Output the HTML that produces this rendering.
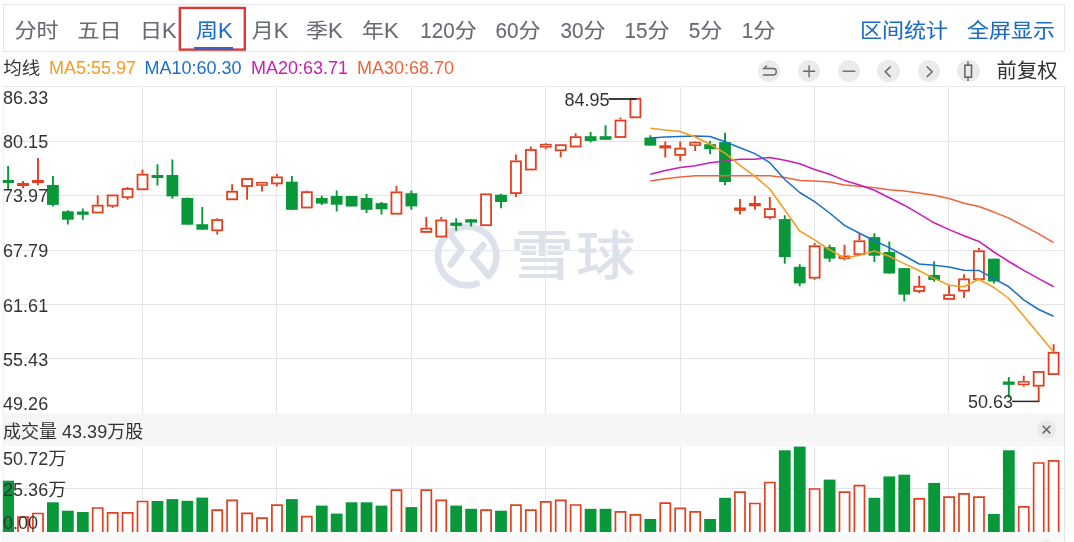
<!DOCTYPE html>
<html lang="zh-CN"><head><meta charset="utf-8"><title>周K</title>
<style>
html,body{margin:0;padding:0;background:#fff;}
body{width:1074px;height:542px;position:relative;overflow:hidden;font-family:"Liberation Sans","Noto Sans CJK SC",sans-serif;}
.tabbar{position:absolute;left:3px;top:4px;width:1060px;height:46px;border:1px solid #e4e6ec;box-sizing:content-box;}
.tab{position:absolute;top:2.5px;margin-left:.6px;height:47px;line-height:46px;font-size:22px;color:#686b72;white-space:nowrap;-webkit-text-stroke:.12px currentColor;}
.tab.on{color:#1f6fc6;}
.lnk{position:absolute;-webkit-text-stroke:.1px currentColor;top:2.5px;height:47px;line-height:46px;font-size:22px;color:#1d6cc4;white-space:nowrap;}
.redbox{position:absolute;left:178.5px;top:6.6px;width:67.6px;height:44.3px;box-sizing:border-box;border:2.3px solid #d93a3a;}
.uline{position:absolute;left:194.2px;top:47.3px;width:38.5px;height:2.6px;background:#3c62bf;}
.ma{position:absolute;top:57px;height:22px;line-height:22px;font-size:18px;white-space:nowrap;}
.ic{position:absolute;top:59.7px;width:22.3px;height:22.3px;border-radius:50%;background:#ebebed;}
.c{display:inline-block;font-style:normal;transform:scaleY(.92);transform-origin:50% 70%;}
.d{display:inline-block;font-weight:normal;transform:scaleX(.94);transform-origin:100% 50%;}
.fq{position:absolute;left:996.6px;top:57.9px;font-size:20.3px;line-height:26px;color:#333;white-space:nowrap;}
</style></head><body>
<svg width="1074" height="542" viewBox="0 0 1074 542" style="position:absolute;left:0;top:0">
<defs><clipPath id="cp"><rect x="2.8" y="80" width="1070" height="470"/></clipPath></defs>
<rect x="3" y="413.3" width="1062" height="28.5" fill="#f5f5f6"/>
<rect x="3" y="441.8" width="1062" height="4.4" fill="#f8f8f9"/>
<rect x="3" y="533.2" width="1062" height="9" fill="#f9f9fa"/>
<line x1="3" x2="1065" y1="86.5" y2="86.5" stroke="#e8e9ee" stroke-width="1"/>
<line x1="3" x2="1065" y1="141.5" y2="141.5" stroke="#e2e4ea" stroke-width="1"/>
<line x1="3" x2="1065" y1="195.4" y2="195.4" stroke="#e2e4ea" stroke-width="1"/>
<line x1="3" x2="1065" y1="250.7" y2="250.7" stroke="#e2e4ea" stroke-width="1"/>
<line x1="3" x2="1065" y1="304.5" y2="304.5" stroke="#e2e4ea" stroke-width="1"/>
<line x1="3" x2="1065" y1="358.6" y2="358.6" stroke="#e2e4ea" stroke-width="1"/>
<line x1="142.5" x2="142.5" y1="86.5" y2="413.0" stroke="#e5e6ec" stroke-width="1"/>
<line x1="142.5" x2="142.5" y1="446.5" y2="532" stroke="#e5e6ec" stroke-width="1"/>
<line x1="276.5" x2="276.5" y1="86.5" y2="413.0" stroke="#e5e6ec" stroke-width="1"/>
<line x1="276.5" x2="276.5" y1="446.5" y2="532" stroke="#e5e6ec" stroke-width="1"/>
<line x1="411.5" x2="411.5" y1="86.5" y2="413.0" stroke="#e5e6ec" stroke-width="1"/>
<line x1="411.5" x2="411.5" y1="446.5" y2="532" stroke="#e5e6ec" stroke-width="1"/>
<line x1="545.5" x2="545.5" y1="86.5" y2="413.0" stroke="#e5e6ec" stroke-width="1"/>
<line x1="545.5" x2="545.5" y1="446.5" y2="532" stroke="#e5e6ec" stroke-width="1"/>
<line x1="680.5" x2="680.5" y1="86.5" y2="413.0" stroke="#e5e6ec" stroke-width="1"/>
<line x1="680.5" x2="680.5" y1="446.5" y2="532" stroke="#e5e6ec" stroke-width="1"/>
<line x1="814.5" x2="814.5" y1="86.5" y2="413.0" stroke="#e5e6ec" stroke-width="1"/>
<line x1="814.5" x2="814.5" y1="446.5" y2="532" stroke="#e5e6ec" stroke-width="1"/>
<line x1="948.5" x2="948.5" y1="86.5" y2="413.0" stroke="#e5e6ec" stroke-width="1"/>
<line x1="948.5" x2="948.5" y1="446.5" y2="532" stroke="#e5e6ec" stroke-width="1"/>
<line x1="3" x2="1065" y1="488.5" y2="488.5" stroke="#e2e4ea" stroke-width="1"/>
<line x1="3.2" x2="3.2" y1="86" y2="542" stroke="#eceef3" stroke-width="1"/>
<line x1="1064.5" x2="1064.5" y1="86" y2="542" stroke="#e2e4ea" stroke-width="1"/>
<g id="wm" fill="none" stroke="#dde1e9" stroke-width="6.6" stroke-linecap="round" stroke-linejoin="round"><path d="M 476.9 283.6 A 29.3 29.3 0 1 1 488.6 275.9 L 473.2 257.6 L 483.3 245.2"/><path d="M 447.6 231.6 L 461.6 249.8 L 450.8 264.4"/></g>
<text transform="translate(514.1 275.3) scale(1.207 1)" x="-3.5" y="0" font-family="'Liberation Sans','Noto Sans CJK SC',sans-serif" font-weight="500" font-size="53" fill="#dde1e9">雪</text>
<text transform="translate(578 275.3) scale(1.12 1)" x="-1.8" y="0" font-family="'Liberation Sans','Noto Sans CJK SC',sans-serif" font-weight="500" font-size="53" fill="#dde1e9">球</text>
<g clip-path="url(#cp)">
<rect x="2.20" y="480.7" width="11.80" height="51.3" fill="#08983a"/>
<path d="M17.99 532.0 V517.1 H28.09 V532.0" fill="#fff" stroke="#e0401f" stroke-width="1.7"/>
<path d="M32.92 532.0 V513.5 H43.02 V532.0" fill="#fff" stroke="#e0401f" stroke-width="1.7"/>
<rect x="47.01" y="502.3" width="11.80" height="29.7" fill="#08983a"/>
<rect x="61.94" y="510.7" width="11.80" height="21.3" fill="#08983a"/>
<rect x="76.88" y="512.0" width="11.80" height="20.0" fill="#08983a"/>
<path d="M92.67 532.0 V508.0 H102.77 V532.0" fill="#fff" stroke="#e0401f" stroke-width="1.7"/>
<path d="M107.60 532.0 V512.9 H117.70 V532.0" fill="#fff" stroke="#e0401f" stroke-width="1.7"/>
<path d="M122.54 532.0 V512.9 H132.64 V532.0" fill="#fff" stroke="#e0401f" stroke-width="1.7"/>
<path d="M137.47 532.0 V501.5 H147.57 V532.0" fill="#fff" stroke="#e0401f" stroke-width="1.7"/>
<rect x="151.56" y="501.0" width="11.80" height="31.0" fill="#08983a"/>
<rect x="166.50" y="499.1" width="11.80" height="32.9" fill="#08983a"/>
<rect x="181.43" y="500.8" width="11.80" height="31.2" fill="#08983a"/>
<rect x="196.37" y="497.6" width="11.80" height="34.4" fill="#08983a"/>
<path d="M212.15 532.0 V510.1 H222.25 V532.0" fill="#fff" stroke="#e0401f" stroke-width="1.7"/>
<path d="M227.09 532.0 V500.4 H237.19 V532.0" fill="#fff" stroke="#e0401f" stroke-width="1.7"/>
<path d="M242.03 532.0 V513.4 H252.13 V532.0" fill="#fff" stroke="#e0401f" stroke-width="1.7"/>
<path d="M256.96 532.0 V518.2 H267.06 V532.0" fill="#fff" stroke="#e0401f" stroke-width="1.7"/>
<path d="M271.90 532.0 V505.2 H282.00 V532.0" fill="#fff" stroke="#e0401f" stroke-width="1.7"/>
<rect x="285.98" y="499.1" width="11.80" height="32.9" fill="#08983a"/>
<path d="M301.77 532.0 V516.6 H311.87 V532.0" fill="#fff" stroke="#e0401f" stroke-width="1.7"/>
<rect x="315.86" y="505.6" width="11.80" height="26.4" fill="#08983a"/>
<rect x="330.79" y="513.6" width="11.80" height="18.4" fill="#08983a"/>
<rect x="345.73" y="502.3" width="11.80" height="29.7" fill="#08983a"/>
<rect x="360.66" y="502.3" width="11.80" height="29.7" fill="#08983a"/>
<rect x="375.60" y="505.6" width="11.80" height="26.4" fill="#08983a"/>
<path d="M391.39 532.0 V490.2 H401.49 V532.0" fill="#fff" stroke="#e0401f" stroke-width="1.7"/>
<rect x="405.47" y="507.1" width="11.80" height="24.9" fill="#08983a"/>
<path d="M421.26 532.0 V490.2 H431.36 V532.0" fill="#fff" stroke="#e0401f" stroke-width="1.7"/>
<path d="M436.19 532.0 V500.4 H446.29 V532.0" fill="#fff" stroke="#e0401f" stroke-width="1.7"/>
<rect x="450.28" y="505.6" width="11.80" height="26.4" fill="#08983a"/>
<rect x="465.22" y="508.8" width="11.80" height="23.2" fill="#08983a"/>
<path d="M481.00 532.0 V510.1 H491.10 V532.0" fill="#fff" stroke="#e0401f" stroke-width="1.7"/>
<rect x="495.09" y="510.7" width="11.80" height="21.3" fill="#08983a"/>
<path d="M510.87 532.0 V505.2 H520.97 V532.0" fill="#fff" stroke="#e0401f" stroke-width="1.7"/>
<path d="M525.81 532.0 V510.1 H535.91 V532.0" fill="#fff" stroke="#e0401f" stroke-width="1.7"/>
<path d="M540.75 532.0 V501.9 H550.85 V532.0" fill="#fff" stroke="#e0401f" stroke-width="1.7"/>
<path d="M555.68 532.0 V500.4 H565.78 V532.0" fill="#fff" stroke="#e0401f" stroke-width="1.7"/>
<path d="M570.62 532.0 V505.0 H580.72 V532.0" fill="#fff" stroke="#e0401f" stroke-width="1.7"/>
<rect x="584.70" y="508.8" width="11.80" height="23.2" fill="#08983a"/>
<rect x="599.64" y="508.8" width="11.80" height="23.2" fill="#08983a"/>
<path d="M615.43 532.0 V511.9 H625.53 V532.0" fill="#fff" stroke="#e0401f" stroke-width="1.7"/>
<path d="M630.36 532.0 V514.9 H640.46 V532.0" fill="#fff" stroke="#e0401f" stroke-width="1.7"/>
<rect x="644.45" y="519.0" width="11.80" height="13.0" fill="#08983a"/>
<path d="M660.23 532.0 V503.2 H670.33 V532.0" fill="#fff" stroke="#e0401f" stroke-width="1.7"/>
<path d="M675.17 532.0 V508.4 H685.27 V532.0" fill="#fff" stroke="#e0401f" stroke-width="1.7"/>
<path d="M690.11 532.0 V511.9 H700.21 V532.0" fill="#fff" stroke="#e0401f" stroke-width="1.7"/>
<rect x="704.19" y="519.0" width="11.80" height="13.0" fill="#08983a"/>
<rect x="719.13" y="497.8" width="11.80" height="34.2" fill="#08983a"/>
<path d="M734.91 532.0 V492.2 H745.01 V532.0" fill="#fff" stroke="#e0401f" stroke-width="1.7"/>
<path d="M749.85 532.0 V503.5 H759.95 V532.0" fill="#fff" stroke="#e0401f" stroke-width="1.7"/>
<path d="M764.79 532.0 V482.5 H774.89 V532.0" fill="#fff" stroke="#e0401f" stroke-width="1.7"/>
<rect x="778.87" y="450.3" width="11.80" height="81.7" fill="#08983a"/>
<rect x="793.81" y="446.6" width="11.80" height="85.4" fill="#08983a"/>
<path d="M809.59 532.0 V489.0 H819.69 V532.0" fill="#fff" stroke="#e0401f" stroke-width="1.7"/>
<rect x="823.68" y="479.6" width="11.80" height="52.4" fill="#08983a"/>
<path d="M839.47 532.0 V492.2 H849.57 V532.0" fill="#fff" stroke="#e0401f" stroke-width="1.7"/>
<path d="M854.40 532.0 V485.7 H864.50 V532.0" fill="#fff" stroke="#e0401f" stroke-width="1.7"/>
<rect x="868.49" y="497.8" width="11.80" height="34.2" fill="#08983a"/>
<rect x="883.42" y="476.4" width="11.80" height="55.6" fill="#08983a"/>
<rect x="898.36" y="474.7" width="11.80" height="57.3" fill="#08983a"/>
<path d="M914.15 532.0 V498.9 H924.25 V532.0" fill="#fff" stroke="#e0401f" stroke-width="1.7"/>
<rect x="928.23" y="482.9" width="11.80" height="49.1" fill="#08983a"/>
<path d="M944.02 532.0 V497.2 H954.12 V532.0" fill="#fff" stroke="#e0401f" stroke-width="1.7"/>
<path d="M958.95 532.0 V493.9 H969.05 V532.0" fill="#fff" stroke="#e0401f" stroke-width="1.7"/>
<path d="M973.89 532.0 V497.2 H983.99 V532.0" fill="#fff" stroke="#e0401f" stroke-width="1.7"/>
<rect x="987.98" y="514.0" width="11.80" height="18.0" fill="#08983a"/>
<rect x="1002.91" y="450.3" width="11.80" height="81.7" fill="#08983a"/>
<path d="M1018.70 532.0 V506.9 H1028.80 V532.0" fill="#fff" stroke="#e0401f" stroke-width="1.7"/>
<path d="M1033.63 532.0 V463.0 H1043.73 V532.0" fill="#fff" stroke="#e0401f" stroke-width="1.7"/>
<path d="M1048.57 532.0 V460.9 H1058.67 V532.0" fill="#fff" stroke="#e0401f" stroke-width="1.7"/>
<line x1="8.10" x2="8.10" y1="166.1" y2="189.8" stroke="#08983a" stroke-width="1.9"/>
<rect x="2.20" y="180.0" width="11.80" height="3.0" fill="#08983a"/>
<line x1="23.04" x2="23.04" y1="181.0" y2="188.3" stroke="#e0401f" stroke-width="1.9"/>
<rect x="17.14" y="183.0" width="11.80" height="3.0" fill="#e0401f"/>
<line x1="37.97" x2="37.97" y1="158.1" y2="185.2" stroke="#e0401f" stroke-width="1.9"/>
<rect x="32.07" y="180.0" width="11.80" height="3.0" fill="#e0401f"/>
<line x1="52.91" x2="52.91" y1="176.1" y2="206.4" stroke="#08983a" stroke-width="1.9"/>
<rect x="47.01" y="185.0" width="11.80" height="19.9" fill="#08983a"/>
<line x1="67.84" x2="67.84" y1="210.2" y2="224.6" stroke="#08983a" stroke-width="1.9"/>
<rect x="61.94" y="211.3" width="11.80" height="8.4" fill="#08983a"/>
<line x1="82.78" x2="82.78" y1="208.6" y2="219.7" stroke="#08983a" stroke-width="1.9"/>
<rect x="76.88" y="211.5" width="11.80" height="3.3" fill="#08983a"/>
<line x1="97.72" x2="97.72" y1="195.3" y2="204.8" stroke="#e0401f" stroke-width="1.9"/>
<rect x="92.72" y="205.65" width="10.00" height="6.85" fill="#fff" stroke="#e0401f" stroke-width="1.8"/>
<line x1="112.65" x2="112.65" y1="206.6" y2="208.0" stroke="#e0401f" stroke-width="1.9"/>
<rect x="107.65" y="195.45" width="10.00" height="10.25" fill="#fff" stroke="#e0401f" stroke-width="1.8"/>
<line x1="127.59" x2="127.59" y1="187.1" y2="188.0" stroke="#e0401f" stroke-width="1.9"/>
<line x1="127.59" x2="127.59" y1="198.1" y2="199.8" stroke="#e0401f" stroke-width="1.9"/>
<rect x="122.59" y="188.95" width="10.00" height="8.25" fill="#fff" stroke="#e0401f" stroke-width="1.8"/>
<line x1="142.52" x2="142.52" y1="169.4" y2="173.8" stroke="#e0401f" stroke-width="1.9"/>
<rect x="137.52" y="174.65" width="10.00" height="14.65" fill="#fff" stroke="#e0401f" stroke-width="1.8"/>
<line x1="157.46" x2="157.46" y1="164.3" y2="185.4" stroke="#08983a" stroke-width="1.9"/>
<rect x="151.56" y="175.0" width="11.80" height="3.0" fill="#08983a"/>
<line x1="172.40" x2="172.40" y1="159.5" y2="198.7" stroke="#08983a" stroke-width="1.9"/>
<rect x="166.50" y="175.0" width="11.80" height="21.4" fill="#08983a"/>
<line x1="187.33" x2="187.33" y1="197.5" y2="224.7" stroke="#08983a" stroke-width="1.9"/>
<rect x="181.43" y="198.0" width="11.80" height="26.7" fill="#08983a"/>
<line x1="202.27" x2="202.27" y1="207.1" y2="229.7" stroke="#08983a" stroke-width="1.9"/>
<rect x="196.37" y="224.2" width="11.80" height="5.5" fill="#08983a"/>
<line x1="217.20" x2="217.20" y1="218.2" y2="219.2" stroke="#e0401f" stroke-width="1.9"/>
<line x1="217.20" x2="217.20" y1="231.2" y2="234.6" stroke="#e0401f" stroke-width="1.9"/>
<rect x="212.20" y="220.05" width="10.00" height="10.25" fill="#fff" stroke="#e0401f" stroke-width="1.8"/>
<line x1="232.14" x2="232.14" y1="184.3" y2="190.8" stroke="#e0401f" stroke-width="1.9"/>
<rect x="227.14" y="191.75" width="10.00" height="7.55" fill="#fff" stroke="#e0401f" stroke-width="1.8"/>
<line x1="247.08" x2="247.08" y1="186.9" y2="199.8" stroke="#e0401f" stroke-width="1.9"/>
<rect x="242.08" y="179.05" width="10.00" height="6.95" fill="#fff" stroke="#e0401f" stroke-width="1.8"/>
<line x1="262.01" x2="262.01" y1="185.8" y2="191.6" stroke="#e0401f" stroke-width="1.9"/>
<rect x="256.86" y="182.70" width="10.30" height="2.35" fill="#fff" stroke="#e0401f" stroke-width="1.5"/>
<line x1="276.95" x2="276.95" y1="173.9" y2="176.4" stroke="#e0401f" stroke-width="1.9"/>
<line x1="276.95" x2="276.95" y1="184.3" y2="186.5" stroke="#e0401f" stroke-width="1.9"/>
<rect x="271.95" y="177.35" width="10.00" height="6.05" fill="#fff" stroke="#e0401f" stroke-width="1.8"/>
<line x1="291.88" x2="291.88" y1="176.1" y2="209.8" stroke="#08983a" stroke-width="1.9"/>
<rect x="285.98" y="181.7" width="11.80" height="28.1" fill="#08983a"/>
<line x1="306.82" x2="306.82" y1="190.5" y2="191.2" stroke="#e0401f" stroke-width="1.9"/>
<rect x="301.82" y="192.15" width="10.00" height="15.35" fill="#fff" stroke="#e0401f" stroke-width="1.8"/>
<line x1="321.76" x2="321.76" y1="195.8" y2="204.9" stroke="#08983a" stroke-width="1.9"/>
<rect x="315.86" y="198.0" width="11.80" height="5.6" fill="#08983a"/>
<line x1="336.69" x2="336.69" y1="190.5" y2="211.6" stroke="#08983a" stroke-width="1.9"/>
<rect x="330.79" y="196.0" width="11.80" height="8.7" fill="#08983a"/>
<line x1="351.63" x2="351.63" y1="196.0" y2="206.5" stroke="#08983a" stroke-width="1.9"/>
<rect x="345.73" y="196.0" width="11.80" height="10.5" fill="#08983a"/>
<line x1="366.56" x2="366.56" y1="193.9" y2="213.1" stroke="#08983a" stroke-width="1.9"/>
<rect x="360.66" y="198.0" width="11.80" height="11.8" fill="#08983a"/>
<line x1="381.50" x2="381.50" y1="202.0" y2="214.6" stroke="#08983a" stroke-width="1.9"/>
<rect x="375.60" y="203.1" width="11.80" height="6.2" fill="#08983a"/>
<line x1="396.44" x2="396.44" y1="185.8" y2="191.4" stroke="#e0401f" stroke-width="1.9"/>
<rect x="391.44" y="192.35" width="10.00" height="21.35" fill="#fff" stroke="#e0401f" stroke-width="1.8"/>
<line x1="411.37" x2="411.37" y1="190.5" y2="209.8" stroke="#08983a" stroke-width="1.9"/>
<rect x="405.47" y="193.2" width="11.80" height="13.2" fill="#08983a"/>
<line x1="426.31" x2="426.31" y1="217.1" y2="227.8" stroke="#e0401f" stroke-width="1.9"/>
<rect x="421.31" y="228.65" width="10.00" height="3.25" fill="#fff" stroke="#e0401f" stroke-width="1.8"/>
<line x1="441.24" x2="441.24" y1="216.9" y2="219.5" stroke="#e0401f" stroke-width="1.9"/>
<rect x="436.24" y="220.45" width="10.00" height="16.05" fill="#fff" stroke="#e0401f" stroke-width="1.8"/>
<line x1="456.18" x2="456.18" y1="218.2" y2="230.8" stroke="#08983a" stroke-width="1.9"/>
<rect x="450.28" y="222.6" width="11.80" height="3.3" fill="#08983a"/>
<line x1="471.12" x2="471.12" y1="219.3" y2="226.4" stroke="#08983a" stroke-width="1.9"/>
<rect x="465.22" y="219.3" width="11.80" height="3.3" fill="#08983a"/>
<rect x="481.05" y="194.35" width="10.00" height="30.85" fill="#fff" stroke="#e0401f" stroke-width="1.8"/>
<line x1="500.99" x2="500.99" y1="193.8" y2="208.2" stroke="#08983a" stroke-width="1.9"/>
<rect x="495.09" y="194.7" width="11.80" height="7.3" fill="#08983a"/>
<line x1="515.92" x2="515.92" y1="154.4" y2="160.4" stroke="#e0401f" stroke-width="1.9"/>
<line x1="515.92" x2="515.92" y1="194.0" y2="196.9" stroke="#e0401f" stroke-width="1.9"/>
<rect x="510.92" y="161.35" width="10.00" height="31.75" fill="#fff" stroke="#e0401f" stroke-width="1.8"/>
<line x1="530.86" x2="530.86" y1="146.6" y2="149.2" stroke="#e0401f" stroke-width="1.9"/>
<rect x="525.86" y="150.05" width="10.00" height="19.45" fill="#fff" stroke="#e0401f" stroke-width="1.8"/>
<line x1="545.80" x2="545.80" y1="143.0" y2="143.8" stroke="#e0401f" stroke-width="1.9"/>
<line x1="545.80" x2="545.80" y1="147.6" y2="149.3" stroke="#e0401f" stroke-width="1.9"/>
<rect x="540.65" y="144.60" width="10.30" height="2.25" fill="#fff" stroke="#e0401f" stroke-width="1.5"/>
<line x1="560.73" x2="560.73" y1="151.2" y2="157.6" stroke="#e0401f" stroke-width="1.9"/>
<rect x="555.73" y="145.15" width="10.00" height="5.15" fill="#fff" stroke="#e0401f" stroke-width="1.8"/>
<line x1="575.67" x2="575.67" y1="133.3" y2="136.2" stroke="#e0401f" stroke-width="1.9"/>
<rect x="570.67" y="137.15" width="10.00" height="9.35" fill="#fff" stroke="#e0401f" stroke-width="1.8"/>
<line x1="590.60" x2="590.60" y1="132.0" y2="142.6" stroke="#08983a" stroke-width="1.9"/>
<rect x="584.70" y="136.2" width="11.80" height="4.8" fill="#08983a"/>
<line x1="605.54" x2="605.54" y1="125.3" y2="139.8" stroke="#08983a" stroke-width="1.9"/>
<rect x="599.64" y="136.2" width="11.80" height="3.6" fill="#08983a"/>
<line x1="620.48" x2="620.48" y1="117.6" y2="119.6" stroke="#e0401f" stroke-width="1.9"/>
<rect x="615.48" y="120.55" width="10.00" height="16.45" fill="#fff" stroke="#e0401f" stroke-width="1.8"/>
<rect x="630.41" y="98.85" width="10.00" height="18.45" fill="#fff" stroke="#e0401f" stroke-width="1.8"/>
<line x1="650.35" x2="650.35" y1="135.2" y2="145.6" stroke="#08983a" stroke-width="1.9"/>
<rect x="644.45" y="137.6" width="11.80" height="8.0" fill="#08983a"/>
<line x1="665.28" x2="665.28" y1="141.6" y2="157.6" stroke="#e0401f" stroke-width="1.9"/>
<rect x="659.38" y="145.3" width="11.80" height="3.1" fill="#e0401f"/>
<line x1="680.22" x2="680.22" y1="141.6" y2="147.8" stroke="#e0401f" stroke-width="1.9"/>
<line x1="680.22" x2="680.22" y1="155.8" y2="161.0" stroke="#e0401f" stroke-width="1.9"/>
<rect x="675.22" y="148.65" width="10.00" height="6.25" fill="#fff" stroke="#e0401f" stroke-width="1.8"/>
<line x1="695.16" x2="695.16" y1="141.2" y2="141.8" stroke="#e0401f" stroke-width="1.9"/>
<line x1="695.16" x2="695.16" y1="145.9" y2="150.9" stroke="#e0401f" stroke-width="1.9"/>
<rect x="690.01" y="142.60" width="10.30" height="2.55" fill="#fff" stroke="#e0401f" stroke-width="1.5"/>
<line x1="710.09" x2="710.09" y1="141.0" y2="154.2" stroke="#08983a" stroke-width="1.9"/>
<rect x="704.19" y="144.2" width="11.80" height="5.0" fill="#08983a"/>
<line x1="725.03" x2="725.03" y1="132.8" y2="185.3" stroke="#08983a" stroke-width="1.9"/>
<rect x="719.13" y="142.1" width="11.80" height="39.9" fill="#08983a"/>
<line x1="739.96" x2="739.96" y1="199.0" y2="214.5" stroke="#e0401f" stroke-width="1.9"/>
<rect x="734.06" y="207.5" width="11.80" height="3.3" fill="#e0401f"/>
<line x1="754.90" x2="754.90" y1="195.7" y2="209.7" stroke="#e0401f" stroke-width="1.9"/>
<rect x="749.00" y="203.0" width="11.80" height="3.3" fill="#e0401f"/>
<line x1="769.84" x2="769.84" y1="197.1" y2="208.2" stroke="#e0401f" stroke-width="1.9"/>
<line x1="769.84" x2="769.84" y1="218.0" y2="219.5" stroke="#e0401f" stroke-width="1.9"/>
<rect x="764.84" y="209.05" width="10.00" height="8.05" fill="#fff" stroke="#e0401f" stroke-width="1.8"/>
<line x1="784.77" x2="784.77" y1="215.3" y2="263.7" stroke="#08983a" stroke-width="1.9"/>
<rect x="778.87" y="219.1" width="11.80" height="38.0" fill="#08983a"/>
<line x1="799.71" x2="799.71" y1="264.2" y2="286.3" stroke="#08983a" stroke-width="1.9"/>
<rect x="793.81" y="266.8" width="11.80" height="16.6" fill="#08983a"/>
<line x1="814.64" x2="814.64" y1="243.1" y2="245.3" stroke="#e0401f" stroke-width="1.9"/>
<line x1="814.64" x2="814.64" y1="278.6" y2="279.9" stroke="#e0401f" stroke-width="1.9"/>
<rect x="809.64" y="246.25" width="10.00" height="31.45" fill="#fff" stroke="#e0401f" stroke-width="1.8"/>
<line x1="829.58" x2="829.58" y1="244.7" y2="262.0" stroke="#08983a" stroke-width="1.9"/>
<rect x="823.68" y="247.1" width="11.80" height="11.5" fill="#08983a"/>
<line x1="844.52" x2="844.52" y1="244.7" y2="255.5" stroke="#e0401f" stroke-width="1.9"/>
<line x1="844.52" x2="844.52" y1="259.0" y2="260.4" stroke="#e0401f" stroke-width="1.9"/>
<rect x="839.37" y="256.30" width="10.30" height="1.95" fill="#fff" stroke="#e0401f" stroke-width="1.5"/>
<line x1="859.45" x2="859.45" y1="233.8" y2="240.3" stroke="#e0401f" stroke-width="1.9"/>
<rect x="854.45" y="241.25" width="10.00" height="12.95" fill="#fff" stroke="#e0401f" stroke-width="1.8"/>
<line x1="874.39" x2="874.39" y1="233.2" y2="262.0" stroke="#08983a" stroke-width="1.9"/>
<rect x="868.49" y="237.1" width="11.80" height="18.6" fill="#08983a"/>
<line x1="889.32" x2="889.32" y1="241.4" y2="273.5" stroke="#08983a" stroke-width="1.9"/>
<rect x="883.42" y="252.0" width="11.80" height="21.5" fill="#08983a"/>
<line x1="904.26" x2="904.26" y1="268.0" y2="301.4" stroke="#08983a" stroke-width="1.9"/>
<rect x="898.36" y="268.1" width="11.80" height="26.5" fill="#08983a"/>
<line x1="919.20" x2="919.20" y1="275.7" y2="285.9" stroke="#e0401f" stroke-width="1.9"/>
<line x1="919.20" x2="919.20" y1="291.9" y2="293.2" stroke="#e0401f" stroke-width="1.9"/>
<rect x="914.20" y="286.75" width="10.00" height="4.25" fill="#fff" stroke="#e0401f" stroke-width="1.8"/>
<line x1="934.13" x2="934.13" y1="261.3" y2="281.7" stroke="#08983a" stroke-width="1.9"/>
<rect x="928.23" y="275.0" width="11.80" height="4.9" fill="#08983a"/>
<line x1="949.07" x2="949.07" y1="285.8" y2="294.2" stroke="#e0401f" stroke-width="1.9"/>
<rect x="944.07" y="295.15" width="10.00" height="3.75" fill="#fff" stroke="#e0401f" stroke-width="1.8"/>
<line x1="964.00" x2="964.00" y1="274.2" y2="278.5" stroke="#e0401f" stroke-width="1.9"/>
<line x1="964.00" x2="964.00" y1="291.6" y2="298.1" stroke="#e0401f" stroke-width="1.9"/>
<rect x="959.00" y="279.35" width="10.00" height="11.35" fill="#fff" stroke="#e0401f" stroke-width="1.8"/>
<line x1="978.94" x2="978.94" y1="248.0" y2="250.3" stroke="#e0401f" stroke-width="1.9"/>
<rect x="973.94" y="251.25" width="10.00" height="27.95" fill="#fff" stroke="#e0401f" stroke-width="1.8"/>
<line x1="993.88" x2="993.88" y1="258.7" y2="283.5" stroke="#08983a" stroke-width="1.9"/>
<rect x="987.98" y="258.7" width="11.80" height="22.8" fill="#08983a"/>
<line x1="1008.81" x2="1008.81" y1="377.1" y2="397.5" stroke="#08983a" stroke-width="1.9"/>
<rect x="1002.91" y="381.5" width="11.80" height="3.3" fill="#08983a"/>
<line x1="1023.75" x2="1023.75" y1="375.7" y2="381.1" stroke="#e0401f" stroke-width="1.9"/>
<line x1="1023.75" x2="1023.75" y1="385.2" y2="386.8" stroke="#e0401f" stroke-width="1.9"/>
<rect x="1018.60" y="381.80" width="10.30" height="2.65" fill="#fff" stroke="#e0401f" stroke-width="1.5"/>
<line x1="1038.68" x2="1038.68" y1="386.6" y2="401.2" stroke="#e0401f" stroke-width="1.9"/>
<rect x="1033.68" y="371.95" width="10.00" height="13.75" fill="#fff" stroke="#e0401f" stroke-width="1.8"/>
<line x1="1053.62" x2="1053.62" y1="344.3" y2="351.9" stroke="#e0401f" stroke-width="1.9"/>
<rect x="1048.62" y="352.75" width="10.00" height="21.35" fill="#fff" stroke="#e0401f" stroke-width="1.8"/>
</g>
<polyline points="650.3,180.9 665.3,178.7 680.2,177.1 695.2,175.8 710.1,175.8 725.0,175.8 740.0,175.8 754.9,175.8 769.8,175.8 784.8,177.6 799.7,180.5 814.6,181.0 829.6,182.1 844.5,184.9 859.5,186.2 874.4,187.8 889.3,189.7 904.3,190.9 919.2,193.0 934.1,195.3 949.1,198.5 964.0,203.3 978.9,206.6 993.9,212.1 1008.8,218.1 1023.7,225.9 1038.7,233.9 1053.6,242.7" fill="none" stroke="#f0643c" stroke-width="1.55" stroke-linejoin="round"/>
<polyline points="650.3,174.2 665.3,170.5 680.2,167.6 695.2,165.8 710.1,162.7 725.0,160.9 740.0,159.2 754.9,159.2 769.8,157.4 784.8,160.3 799.7,163.8 814.6,169.4 829.6,174.2 844.5,180.4 859.5,184.9 874.4,190.2 889.3,197.8 904.3,205.2 919.2,213.8 934.1,222.8 949.1,229.6 964.0,235.8 978.9,241.4 993.9,252.0 1008.8,261.5 1023.7,270.4 1038.7,278.6 1053.6,286.8" fill="none" stroke="#c81eb4" stroke-width="1.55" stroke-linejoin="round"/>
<polyline points="650.3,138.1 665.3,137.0 680.2,136.4 695.2,136.1 710.1,136.4 725.0,141.7 740.0,147.7 754.9,153.6 769.8,162.7 784.8,179.5 799.7,192.5 814.6,201.7 829.6,213.0 844.5,225.4 859.5,233.2 874.4,240.7 889.3,247.6 904.3,255.8 919.2,264.0 934.1,265.3 949.1,267.0 964.0,270.2 978.9,270.4 993.9,278.6 1008.8,286.8 1023.7,299.8 1038.7,309.5 1053.6,316.2" fill="none" stroke="#1c6fc8" stroke-width="1.55" stroke-linejoin="round"/>
<polyline points="650.3,128.2 665.3,129.9 680.2,131.5 695.2,137.0 710.1,144.3 725.0,153.2 740.0,165.4 754.9,176.4 769.8,189.0 784.8,210.0 799.7,231.0 814.6,239.8 829.6,249.8 844.5,258.0 859.5,255.3 874.4,250.9 889.3,256.2 904.3,263.6 919.2,270.8 934.1,278.4 949.1,285.2 964.0,286.8 978.9,279.3 993.9,287.5 1008.8,298.5 1023.7,316.0 1038.7,334.0 1053.6,352.0" fill="none" stroke="#f39c1e" stroke-width="1.55" stroke-linejoin="round"/>
<line x1="608.5" x2="636.5" y1="99" y2="99" stroke="#2a2a2a" stroke-width="1.8"/>
<line x1="1012" x2="1039.4" y1="401.4" y2="401.4" stroke="#2a2a2a" stroke-width="1.5"/>
<text x="3.1" y="103.6" font-family="'Liberation Sans','Noto Sans CJK SC',sans-serif" font-size="18" fill="#333" text-anchor="start" >86.33</text>
<text x="3.1" y="148.0" font-family="'Liberation Sans','Noto Sans CJK SC',sans-serif" font-size="18" fill="#333" text-anchor="start" >80.15</text>
<text x="3.1" y="202.2" font-family="'Liberation Sans','Noto Sans CJK SC',sans-serif" font-size="18" fill="#333" text-anchor="start" >73.97</text>
<text x="3.1" y="257.4" font-family="'Liberation Sans','Noto Sans CJK SC',sans-serif" font-size="18" fill="#333" text-anchor="start" >67.79</text>
<text x="3.1" y="311.5" font-family="'Liberation Sans','Noto Sans CJK SC',sans-serif" font-size="18" fill="#333" text-anchor="start" >61.61</text>
<text x="3.1" y="365.5" font-family="'Liberation Sans','Noto Sans CJK SC',sans-serif" font-size="18" fill="#333" text-anchor="start" >55.43</text>
<text x="3.1" y="410.2" font-family="'Liberation Sans','Noto Sans CJK SC',sans-serif" font-size="18" fill="#333" text-anchor="start" >49.26</text>
<text x="564.4" y="105.5" font-family="'Liberation Sans','Noto Sans CJK SC',sans-serif" font-size="18" fill="#333" text-anchor="start" >84.95</text>
<text x="968.0" y="408" font-family="'Liberation Sans','Noto Sans CJK SC',sans-serif" font-size="18" fill="#333" text-anchor="start" >50.63</text>
<text x="3.1" y="464.5" font-family="'Liberation Sans','Noto Sans CJK SC',sans-serif" font-size="18" fill="#333" text-anchor="start" >50.72万</text>
<text x="3.1" y="496.0" font-family="'Liberation Sans','Noto Sans CJK SC',sans-serif" font-size="18" fill="#333" text-anchor="start" >25.36万</text>
<text x="3.1" y="528.6" font-family="'Liberation Sans','Noto Sans CJK SC',sans-serif" font-size="18" fill="#333" text-anchor="start" >0.00</text>
<text x="3.1" y="437.6" font-family="'Liberation Sans','Noto Sans CJK SC',sans-serif" font-size="18" fill="#333" text-anchor="start" >成交量 43.39万股</text>
<circle cx="1046.5" cy="429.6" r="9.4" fill="#e9e9ea"/>
<path d="M1042.7 425.8 L1050.3 433.4 M1050.3 425.8 L1042.7 433.4" stroke="#666" stroke-width="1.5" fill="none"/>
<circle cx="1046.4" cy="549.6" r="9.4" fill="#ececee"/>
</svg>
<div class="tabbar">
<span class="tab" style="left:10px"><i class="c">分时</i></span>
<span class="tab" style="left:73px"><i class="c">五日</i></span>
<span class="tab" style="left:135.5px"><i class="c">日</i>K</span>
<span class="tab on" style="left:191.5px"><i class="c">周</i>K</span>
<span class="tab" style="left:247.1px"><i class="c">月</i>K</span>
<span class="tab" style="left:301.5px"><i class="c">季</i>K</span>
<span class="tab" style="left:357.5px"><i class="c">年</i>K</span>
<span class="tab" style="left:413.5px"><b class="d">120</b><i class="c">分</i></span>
<span class="tab" style="left:489.5px"><b class="d">60</b><i class="c">分</i></span>
<span class="tab" style="left:554.5px"><b class="d">30</b><i class="c">分</i></span>
<span class="tab" style="left:618.5px"><b class="d">15</b><i class="c">分</i></span>
<span class="tab" style="left:683.5px"><b class="d">5</b><i class="c">分</i></span>
<span class="tab" style="left:736.5px"><b class="d">1</b><i class="c">分</i></span>
<span class="lnk" style="left:856px"><i class="c">区间统计</i></span>
<span class="lnk" style="left:963px"><i class="c">全屏显示</i></span>
</div>
<svg style="position:absolute;left:0;top:0" width="260" height="60"><rect x="179.8" y="7.9" width="65" height="41.7" fill="none" stroke="#d93a3a" stroke-width="2.4"/></svg>
<div class="uline"></div>
<span class="ma" style="left:3.3px;color:#333;font-size:18.5px"><i class="c">均线</i></span>
<span class="ma" style="left:49px;color:#f39c1e">MA5:55.97</span>
<span class="ma" style="left:144.5px;color:#1c6fc8">MA10:60.30</span>
<span class="ma" style="left:251px;color:#c81eb4">MA20:63.71</span>
<span class="ma" style="left:357px;color:#f0643c">MA30:68.70</span>
<div class="ic" style="left:757.8px"><svg width="22" height="22" viewBox="0 0 22 22"><path d="M5 15 H15 A3.25 3.25 0 0 0 15 8.5 H5.8 L9 5.4" fill="none" stroke="#686868" stroke-width="1.4"/></svg></div>
<div class="ic" style="left:798px"><svg width="22" height="22" viewBox="0 0 22 22"><path d="M5 11.2 H17.2 M11.1 5.2 V17.2" fill="none" stroke="#686868" stroke-width="1.4"/></svg></div>
<div class="ic" style="left:838.2px"><svg width="22" height="22" viewBox="0 0 22 22"><path d="M4.6 11.2 H17.4" fill="none" stroke="#686868" stroke-width="1.4"/></svg></div>
<div class="ic" style="left:877.4px"><svg width="22" height="22" viewBox="0 0 22 22"><path d="M13.6 6.5 L8.3 11.7 L13.6 17" fill="none" stroke="#686868" stroke-width="1.6"/></svg></div>
<div class="ic" style="left:917.6px"><svg width="22" height="22" viewBox="0 0 22 22"><path d="M8.8 6.5 L14.1 11.7 L8.8 17" fill="none" stroke="#686868" stroke-width="1.6"/></svg></div>
<div class="ic" style="left:957.3px"><svg width="22" height="22" viewBox="0 0 22 22" style="overflow:visible"><path d="M11 1.5 V21" fill="none" stroke="#686868" stroke-width="1.5"/><rect x="7.9" y="5.2" width="6.6" height="12" fill="#e8ebf0" stroke="#686868" stroke-width="1.6"/></svg></div>
<span class="fq">前复权</span>
</body></html>
